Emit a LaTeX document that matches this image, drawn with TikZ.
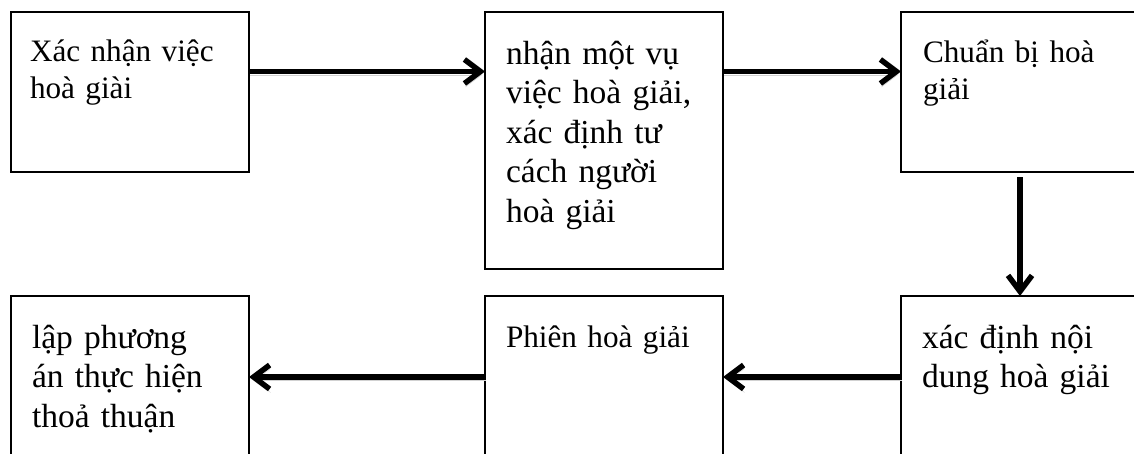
\documentclass[tikz,border=0pt]{standalone}
\usepackage{fontspec}
\setmainfont{Liberation Serif}
\usetikzlibrary{arrows.meta}
\begin{document}
\begin{tikzpicture}[x=1pt,y=-1pt,
  box/.style={draw, line width=1.6pt, anchor=north west, inner sep=0pt, outer sep=0pt},
  boxshort/.style={box, minimum width=238pt, minimum height=160pt},
  boxtall/.style={box, minimum width=238pt, minimum height=257pt},
  boxlow/.style={box, minimum width=238pt, minimum height=175pt},
  txtA/.style={anchor=base west, inner sep=0pt, outer sep=0pt, align=left, text width=230pt, font=\fontsize{31.2}{37}\selectfont},
  txtB/.style={anchor=base west, inner sep=0pt, outer sep=0pt, align=left, text width=230pt, font=\fontsize{33.5}{39.5}\selectfont},
  tip/.style={-{Straight Barb[length=16pt,width=24pt,line width=5.5pt]}},
  arr/.style={tip, line width=5.5pt, preaction={draw=black!18, transform canvas={xshift=1pt,yshift=-3.5pt}}},
  darr/.style={tip, line width=5.5pt}
]
\useasboundingbox (0,0) rectangle (1134,453);
\clip (0,0) rectangle (1134,453);
\fill[white] (0,0) rectangle (1134,453);

% top row
\node[boxshort] (b1) at (11,12) {};
\node[boxtall]  (b2) at (485,12) {};
\node[boxshort] (b3) at (901,12) {};
% bottom row
\node[boxlow] (b4) at (901,296) {};
\node[boxlow] (b5) at (485,296) {};
\node[boxlow] (b6) at (11,296) {};

% texts
\node[txtA] (t1) at (30,61) {Xác nhận việc\\hoà giài};
\node[txtB] (t2) at (506,64) {nhận một vụ\\việc hoà giải,\\xác định tư\\cách người\\hoà giải};
\node[txtA] (t3) at (923,62) {Chuẩn bị hoà\\giải};
\node[txtB] (t4) at (922,348) {xác định nội\\dung hoà giải};
\node[txtA] (t5) at (506,347) {Phiên hoà giải};
\node[txtB] (t6) at (32,348) {lập phương\\án thực hiện\\thoả thuận};

% connectors
\draw[arr] ([yshift=-59.5pt]b1.north east) -- ([yshift=-59.5pt]b2.north west);
\draw[arr] ([yshift=-59.5pt]b2.north east) -- ([yshift=-59.5pt]b3.north west);
\draw[darr] ([yshift=-5pt]b3.south) -- (b4.north -| b3.south);
\draw[arr] ([yshift=-81pt]b4.north west) -- ([yshift=-81pt]b5.north east);
\draw[arr] ([yshift=-81pt]b5.north west) -- ([yshift=-81pt]b6.north east);
\end{tikzpicture}
\end{document}
